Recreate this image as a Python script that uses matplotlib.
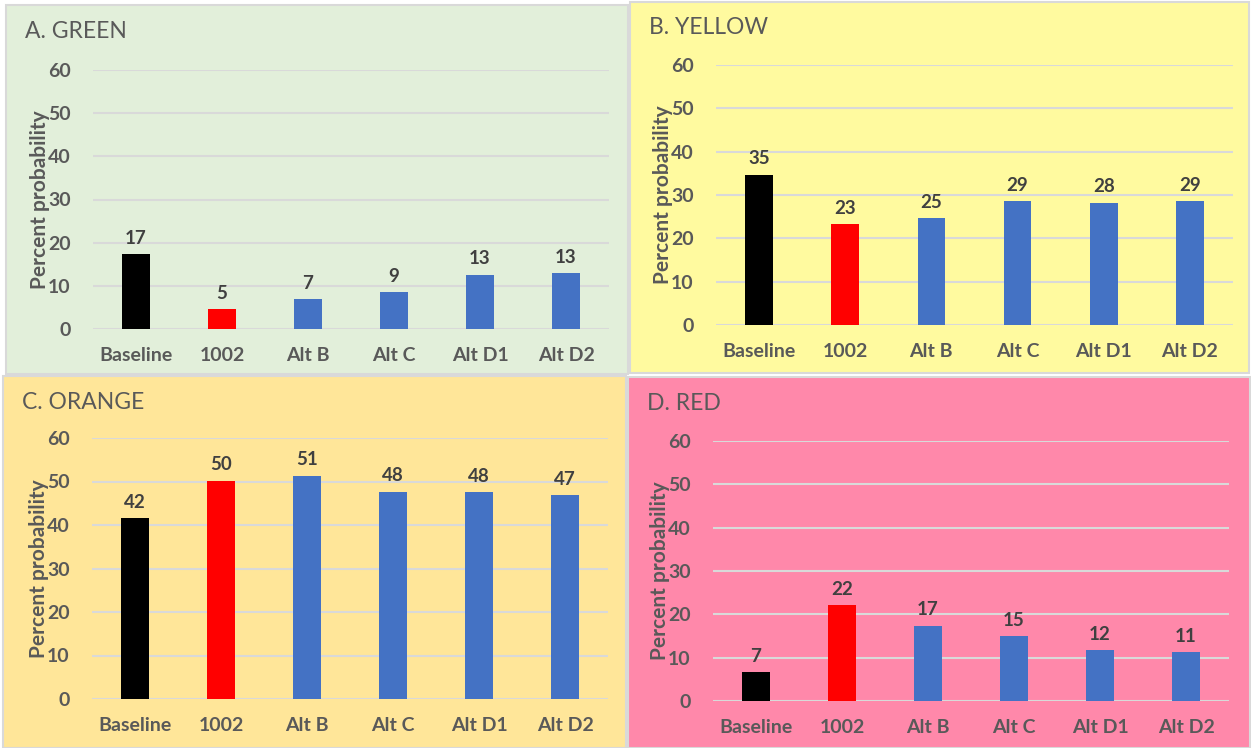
import matplotlib
matplotlib.use("Agg")
import matplotlib.pyplot as plt
from matplotlib.patches import Rectangle

plt.rcParams['font.family'] = ['Lato', 'DejaVu Sans']

categories = ["Baseline", "1002", "Alt B", "Alt C", "Alt D1", "Alt D2"]
green_vals = [17.4, 4.6, 6.9, 8.6, 12.6, 12.9]
yellow_vals = [34.7, 23.3, 24.6, 28.6, 28.2, 28.6]
orange_vals = [41.6, 50.2, 51.3, 47.7, 47.6, 46.9]
red_vals = [6.6, 22.1, 17.4, 15.0, 11.7, 11.3]
titles = ["A. GREEN", "B. YELLOW", "C. ORANGE", "D. RED"]
yticks = [0, 10, 20, 30, 40, 50, 60]
bar_colors = ["#000000", "#FF0000", "#4472C4", "#4472C4", "#4472C4", "#4472C4"]

W, H = 1251, 748
fig = plt.figure(figsize=(W / 100, H / 100), dpi=100)

def fx(x):
    return x / W

def fy(y):
    return 1 - y / H

# panel boxes (pixel coords: x0, y0, x1, y1)
panels = [
    dict(box=(6, 5, 628, 374), bg="#E2EFDA", ax=(93, 70, 609, 329), vals=green_vals),
    dict(box=(630, 2, 1249, 373), bg="#FFFA9F", ax=(716, 65, 1233, 325), vals=yellow_vals),
    dict(box=(3, 376, 626, 748), bg="#FFE699", ax=(92, 438, 608, 699), vals=orange_vals),
    dict(box=(628, 377, 1250, 748), bg="#FF88AA", ax=(713, 441, 1229, 701), vals=red_vals),
]

txt = "#595959"
for p, title in zip(panels, titles):
    x0, y0, x1, y1 = p["box"]
    fig.patches.append(Rectangle((fx(x0), fy(y1)), fx(x1 - x0), (y1 - y0) / H,
                                 transform=fig.transFigure, facecolor=p["bg"],
                                 edgecolor="#D9D9D9", linewidth=1.5, zorder=-5))
    fig.text(fx(x0 + 19), fy(y0 + 26), title, fontsize=16.5, color=txt,
             va="center", ha="left")
    a0, b0, a1, b1 = p["ax"]
    ax = fig.add_axes([fx(a0), fy(b1), fx(a1 - a0), (b1 - b0) / H])
    ax.set_zorder(1)
    ax.patch.set_alpha(0)
    xs = range(len(categories))
    vals = p["vals"]
    ax.bar(xs, vals, width=0.32, color=bar_colors, zorder=3)
    for xi, v in zip(xs, vals):
        ax.text(xi, v + 1.7, f"{v:.0f}", ha="center", va="bottom", fontsize=13.5,
                fontweight="bold", color="#404040")
    ax.set_xlim(-0.5, len(categories) - 0.5)
    ax.set_ylim(0, 60)
    ax.set_yticks(yticks)
    ax.set_xticks(list(xs))
    ax.set_xticklabels(categories)
    ax.grid(axis="y", color="#D9D9D9", linewidth=1.5, zorder=0)
    ax.set_axisbelow(True)
    for s in ax.spines.values():
        s.set_visible(False)
    ax.tick_params(axis="both", length=0, labelsize=14, labelcolor=txt)
    ax.tick_params(axis="y", pad=16)
    ax.tick_params(axis="x", pad=13)
    for lab in ax.get_xticklabels() + ax.get_yticklabels():
        lab.set_fontweight("bold")
    ax.set_ylabel("Percent probability", fontsize=15, fontweight="bold", color=txt)
    ax.yaxis.set_label_coords(-43 / (a1 - a0), 0.5)

fig.savefig("out.png", dpi=100)
